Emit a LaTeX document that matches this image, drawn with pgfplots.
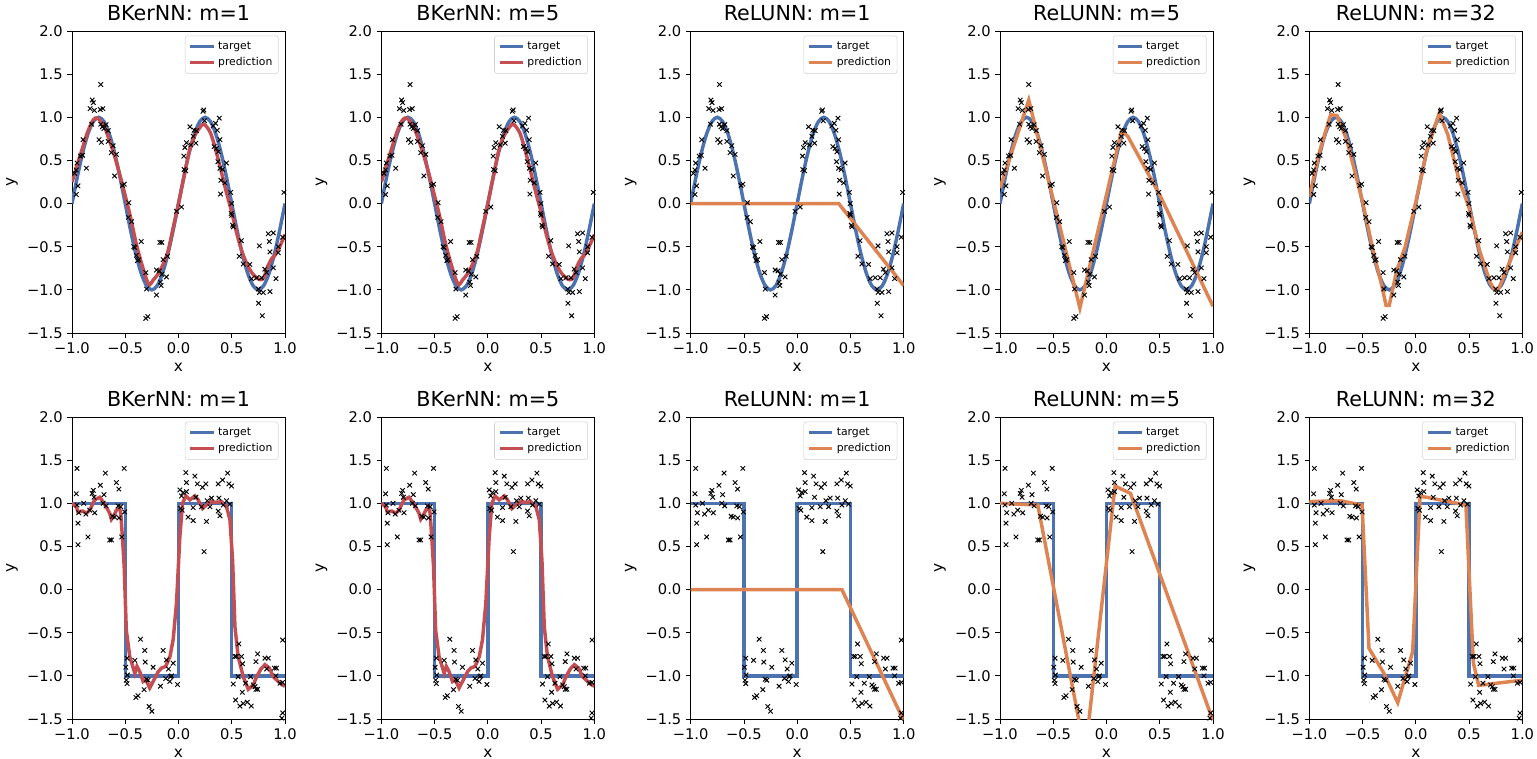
\documentclass[border=0pt]{standalone}
\usepackage{fontspec}
\setmainfont{DejaVu Sans}
\usepackage{pgfplots}
\usepackage{pgfplotstable}
\pgfplotsset{compat=1.18}

\definecolor{tblue}{RGB}{76,114,176}
\definecolor{pred}{RGB}{196,78,82}
\definecolor{orng}{RGB}{221,132,82}

% noisy samples, sine task
\pgfplotstableread{
x y
-0.96 0.105
-0.944 0.205
-0.975 0.35
-0.96 0.39
-0.953 0.47
-0.92 0.55
-0.90 0.56
-0.896 0.74
-0.865 0.41
-0.83 1.10
-0.81 1.20
-0.80 1.17
-0.79 1.08
-0.815 0.92
-0.73 1.38
-0.734 1.09
-0.71 1.10
-0.746 0.74
-0.724 0.71
-0.73 0.92
-0.715 0.89
-0.70 0.87
-0.68 0.915
-0.66 0.845
-0.66 0.72
-0.63 0.59
-0.614 0.67
-0.583 0.57
-0.60 0.32
-0.527 0.21
-0.51 0.225
-0.467 0.01
-0.47 -0.16
-0.44 -0.21
-0.42 -0.50
-0.41 -0.51
-0.395 -0.60
-0.385 -0.66
-0.373 -0.65
-0.35 -0.44
-0.307 -0.80
-0.30 -0.99
-0.307 -1.33
-0.288 -1.31
-0.207 -1.06
-0.207 -0.77
-0.18 -0.78
-0.175 -0.45
-0.157 -0.45
-0.17 -0.91
-0.163 -0.95
-0.157 -0.82
-0.144 -0.65
-0.113 -0.85
-0.103 -0.61
-0.019 -0.09
0.028 -0.04
0.053 0.395
0.069 0.38
0.05 0.55
0.06 0.65
0.075 0.705
0.107 0.89
0.116 0.68
0.138 0.78
0.147 0.85
0.169 0.845
0.163 0.70
0.23 1.07
0.238 1.085
0.245 0.96
0.326 0.90
0.348 0.93
0.364 0.85
0.383 0.99
0.357 0.64
0.335 0.66
0.373 0.60
0.389 0.74
0.37 0.485
0.389 0.41
0.414 0.395
0.398 0.27
0.395 0.11
0.436 0.24
0.45 0.47
0.49 0.13
0.498 0.0
0.495 -0.115
0.50 -0.135
0.508 -0.25
0.514 -0.27
0.59 -0.43
0.57 -0.61
0.608 -0.70
0.67 -0.705
0.686 -0.87
0.733 -0.86
0.75 -0.99
0.76 -1.03
0.752 -1.155
0.759 -0.49
0.78 -0.86
0.787 -1.30
0.796 -1.03
0.81 -0.76
0.828 -0.80
0.843 -0.35
0.853 -0.44
0.859 -0.56
0.859 -1.02
0.89 -0.34
0.89 -0.745
0.915 -0.87
0.937 -0.50
0.937 -0.57
0.978 -0.39
0.99 0.13
}\sinpts

% noisy samples, square task
\pgfplotstableread{
x y
-0.953 1.405
-0.96 1.11
-0.953 0.98
-0.937 0.89
-0.944 0.77
-0.944 0.52
-0.89 1.0
-0.87 0.875
-0.85 0.61
-0.834 0.92
-0.81 1.115
-0.80 1.15
-0.787 0.89
-0.793 1.07
-0.734 1.21
-0.708 1.0
-0.70 1.10
-0.687 1.35
-0.68 0.97
-0.646 0.575
-0.63 0.575
-0.62 0.85
-0.60 0.84
-0.583 1.24
-0.567 0.97
-0.56 1.165
-0.558 0.83
-0.542 0.96
-0.533 0.61
-0.51 1.405
-0.505 0.90
-0.495 -0.90
-0.483 -0.795
-0.48 -0.99
-0.49 -1.05
-0.483 -1.09
-0.41 -0.82
-0.40 -1.25
-0.38 -1.23
-0.357 -0.575
-0.323 -1.16
-0.317 -0.705
-0.313 -0.84
-0.30 -1.04
-0.285 -1.05
-0.276 -1.355
-0.25 -1.41
-0.238 -0.90
-0.17 -1.12
-0.144 -0.705
-0.12 -1.03
-0.113 -0.815
-0.094 -0.92
-0.082 -1.065
-0.075 -1.01
-0.066 -1.0
-0.05 -0.853
-0.009 -1.10
0.013 1.155
0.028 1.085
0.044 1.125
0.034 0.92
0.019 0.94
0.069 1.355
0.075 1.24
0.075 1.135
0.09 0.84
0.138 0.80
0.138 0.95
0.154 1.315
0.163 1.07
0.178 1.225
0.226 1.185
0.216 0.96
0.24 0.44
0.257 1.225
0.263 0.79
0.27 1.03
0.31 1.06
0.295 0.96
0.373 1.225
0.38 1.06
0.373 0.91
0.389 0.855
0.414 1.27
0.42 0.98
0.451 1.03
0.461 1.35
0.473 1.225
0.498 1.20
0.483 0.99
0.567 -0.63
0.514 -1.095
0.53 -0.775
0.545 -0.775
0.56 -1.01
0.536 -1.28
0.577 -1.35
0.592 -0.775
0.602 -0.86
0.599 -1.19
0.608 -1.32
0.63 -1.085
0.646 -1.305
0.683 -1.35
0.677 -1.01
0.702 -1.105
0.718 -1.125
0.727 -1.155
0.743 -1.155
0.727 -0.835
0.743 -0.745
0.812 -0.795
0.828 -0.92
0.843 -0.795
0.90 -0.91
0.915 -1.0
0.92 -0.91
0.953 -1.085
0.978 -1.075
0.978 -0.585
0.978 -1.43
0.97 -1.49
}\sqpts

% targets
\pgfplotstableread{
x y
-1.00 0
-0.95 0.309
-0.90 0.5878
-0.85 0.809
-0.80 0.9511
-0.75 1
-0.70 0.9511
-0.65 0.809
-0.60 0.5878
-0.55 0.309
-0.50 0
-0.45 -0.309
-0.40 -0.5878
-0.35 -0.809
-0.30 -0.9511
-0.25 -1
-0.20 -0.9511
-0.15 -0.809
-0.10 -0.5878
-0.05 -0.309
0.00 0
0.05 0.309
0.10 0.5878
0.15 0.809
0.20 0.9511
0.25 1
0.30 0.9511
0.35 0.809
0.40 0.5878
0.45 0.309
0.50 0
0.55 -0.309
0.60 -0.5878
0.65 -0.809
0.70 -0.9511
0.75 -1
0.80 -0.9511
0.85 -0.809
0.90 -0.5878
0.95 -0.309
1.00 0
}\sinT

\pgfplotstableread{
x y
-1 1
-0.5 1
-0.5 -1
0 -1
0 1
0.5 1
0.5 -1
1 -1
}\sqT

% predictions, sine task
\pgfplotstableread{
x y
-1.00 0.25
-0.95 0.45
-0.90 0.65
-0.85 0.84
-0.80 0.97
-0.76 0.99
-0.70 0.90
-0.65 0.74
-0.60 0.55
-0.55 0.33
-0.50 0.09
-0.45 -0.16
-0.40 -0.45
-0.35 -0.68
-0.30 -0.88
-0.27 -0.94
-0.24 -0.89
-0.20 -0.83
-0.15 -0.72
-0.10 -0.56
-0.05 -0.28
0.00 0.0
0.05 0.30
0.10 0.60
0.15 0.78
0.20 0.88
0.24 0.92
0.30 0.82
0.35 0.62
0.40 0.38
0.45 0.13
0.50 -0.10
0.55 -0.36
0.60 -0.57
0.65 -0.72
0.70 -0.82
0.76 -0.88
0.80 -0.86
0.84 -0.72
0.88 -0.63
0.90 -0.61
0.95 -0.50
1.00 -0.36
}\bkSin

\pgfplotstableread{
x y
-1 0
0.39 0
1 -0.95
}\reluOneSin

\pgfplotstableread{
x y
-1 0.18
-0.73 1.20
-0.25 -1.21
0.14 0.84
0.20 0.78
0.50 0.10
1 -1.19
}\reluFiveSin

\pgfplotstableread{
x y
-1.00 0.08
-0.90 0.62
-0.80 1.03
-0.74 1.02
-0.65 0.74
-0.50 0.02
-0.40 -0.55
-0.32 -0.95
-0.28 -1.18
-0.25 -1.18
-0.18 -0.78
-0.10 -0.50
0.00 0.02
0.10 0.60
0.22 1.05
0.30 0.80
0.40 0.30
0.50 -0.05
0.60 -0.55
0.70 -0.92
0.74 -1.0
0.78 -0.98
0.90 -0.62
1.00 -0.33
}\reluBigSin

% predictions, square task
\pgfplotstableread{
x y
-1.00 1.0
-0.96 0.96
-0.944 0.90
-0.90 0.91
-0.865 0.885
-0.834 0.92
-0.787 1.04
-0.74 1.07
-0.71 1.02
-0.68 0.96
-0.646 0.885
-0.63 0.815
-0.608 0.855
-0.583 0.92
-0.558 0.96
-0.542 0.885
-0.527 0.615
-0.51 0.27
-0.49 -0.47
-0.458 -0.775
-0.41 -0.97
-0.39 -0.89
-0.364 -0.95
-0.332 -1.065
-0.307 -1.045
-0.27 -1.14
-0.238 -1.065
-0.19 -0.95
-0.16 -0.91
-0.12 -0.89
-0.08 -0.775
-0.05 -0.58
-0.019 -0.16
0.013 0.615
0.038 1.0
0.069 1.085
0.107 1.04
0.154 1.085
0.185 1.04
0.226 0.94
0.263 0.98
0.31 1.02
0.357 1.01
0.404 1.02
0.451 0.96
0.483 0.81
0.508 0.34
0.53 -0.43
0.56 -0.775
0.608 -1.01
0.655 -1.155
0.702 -1.105
0.734 -1.01
0.774 -0.92
0.812 -0.87
0.853 -0.91
0.89 -1.01
0.937 -1.065
0.969 -1.10
1.0 -1.12
}\bkSq

\pgfplotstableread{
x y
-1 0
0.42 0
1 -1.52
}\reluOneSq

\pgfplotstableread{
x y
-1 1.0
-0.645 0.98
-0.2 -1.9
0.08 1.2
0.225 1.115
1 -1.52
}\reluFiveSq

\pgfplotstableread{
x y
-1 1.02
-0.71 1.03
-0.505 0.98
-0.44 -0.68
-0.30 -0.97
-0.17 -1.31
-0.03 -0.72
0.04 1.08
0.10 1.07
0.47 0.98
0.54 -0.85
0.59 -1.11
1.0 -1.05
}\reluBigSq

\pgfplotsset{
  panel/.style={
    anchor=north west,
    scale only axis,
    width=159.75pt, height=226.5pt,
    xmin=-1, xmax=1, ymin=-1.5, ymax=2,
    xtick={-1,-0.5,0,0.5,1},
    xticklabels={−1.0,−0.5,0.0,0.5,1.0},
    ytick={-1.5,-1,-0.5,0,0.5,1,1.5,2},
    yticklabels={−1.5,−1.0,−0.5,0.0,0.5,1.0,1.5,2.0},
    tick align=outside, tick pos=left,
    major tick length=3.5pt,
    every tick/.style={black, line width=0.6pt},
    axis line style={line width=0.6pt},
    tick label style={font=\fontsize{11}{13}\selectfont},
    label style={font=\fontsize{11.5}{13}\selectfont},
    title style={font=\fontsize{15.5}{18}\selectfont, yshift=-2pt},
    xlabel={x}, ylabel={y},
    legend style={at={(0.97,0.985)}, anchor=north east, draw=gray!35,
      rounded corners=2pt, fill=white, font=\fontsize{8.1}{9.5}\selectfont,
      inner sep=2.5pt, row sep=0.5pt},
    legend cell align=left,
    legend image code/.code={\draw[##1] (0cm,0cm) -- (0.62cm,0cm);},
  },
  tline/.style={tblue, line width=2.6pt},
  scat/.style={only marks, mark=x, mark size=2.4pt, black, mark options={line width=0.7pt}, forget plot},
}

\newcommand{\panel}[8]{%
\begin{axis}[panel, at={(#1,#2)}, title={#3}]
\addplot[tline, #5] table {#4};
\addplot[line width=2.6pt, #7] table {#6};
\addplot[scat] table {#8};
\legend{target, prediction}
\end{axis}}

\begin{document}
\begin{tikzpicture}
\path[use as bounding box] (-54pt,23.25pt) rectangle (1098.75pt,-545.25pt);
\panel{0pt}{0pt}{BKerNN: m=1}{\sinT}{smooth}{\bkSin}{pred, smooth}{\sinpts}
\panel{232pt}{0pt}{BKerNN: m=5}{\sinT}{smooth}{\bkSin}{pred, smooth}{\sinpts}
\panel{464pt}{0pt}{ReLUNN: m=1}{\sinT}{smooth}{\reluOneSin}{orng}{\sinpts}
\panel{696pt}{0pt}{ReLUNN: m=5}{\sinT}{smooth}{\reluFiveSin}{orng}{\sinpts}
\panel{928pt}{0pt}{ReLUNN: m=32}{\sinT}{smooth}{\reluBigSin}{orng}{\sinpts}
\panel{0pt}{-289.5pt}{BKerNN: m=1}{\sqT}{}{\bkSq}{pred}{\sqpts}
\panel{232pt}{-289.5pt}{BKerNN: m=5}{\sqT}{}{\bkSq}{pred}{\sqpts}
\panel{464pt}{-289.5pt}{ReLUNN: m=1}{\sqT}{}{\reluOneSq}{orng}{\sqpts}
\panel{696pt}{-289.5pt}{ReLUNN: m=5}{\sqT}{}{\reluFiveSq}{orng}{\sqpts}
\panel{928pt}{-289.5pt}{ReLUNN: m=32}{\sqT}{}{\reluBigSq}{orng}{\sqpts}
\end{tikzpicture}
\end{document}
